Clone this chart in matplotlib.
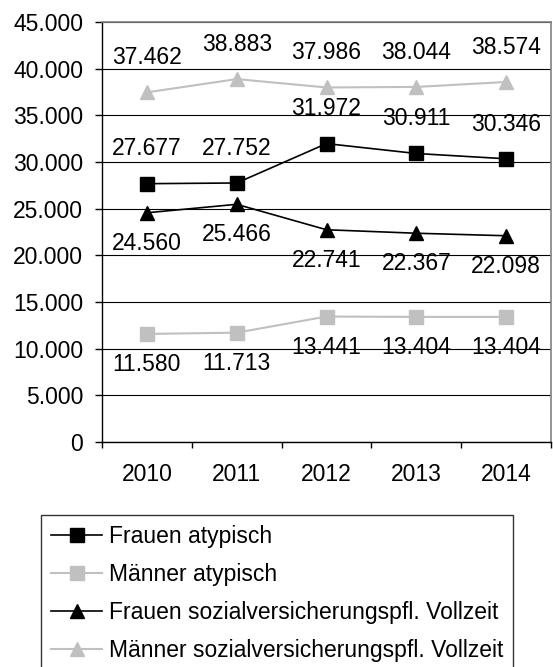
import matplotlib
matplotlib.use('Agg')
import matplotlib.pyplot as plt
import numpy as np

plt.rcParams['font.family'] = ['Liberation Sans', 'DejaVu Sans']

years = ["2010", "2011", "2012", "2013", "2014"]
frauen_atypisch = [27677, 27752, 31972, 30911, 30346]
maenner_atypisch = [11580, 11713, 13441, 13404, 13404]
frauen_vollzeit = [24560, 25466, 22741, 22367, 22098]
maenner_vollzeit = [37462, 38883, 37986, 38044, 38574]
series_names = ["Frauen atypisch", "Männer atypisch",
                "Frauen sozialversicherungspfl. Vollzeit",
                "Männer sozialversicherungspfl. Vollzeit"]
y_ticks = [0, 5000, 10000, 15000, 20000, 25000, 30000, 35000, 40000, 45000]


def de_fmt(v):
    return f"{v:,}".replace(",", ".")


FS = 16.5
fig = plt.figure(figsize=(5.53, 6.67), dpi=100)
ax = fig.add_axes([102/553, 1-442/667, 449/553, 420/667])

x = np.arange(len(years))
gray = "#c0c0c0"
styles = [
    (frauen_atypisch, "black", "s", 1.2, 25),
    (maenner_atypisch, gray, "s", 1.5, -22),
    (frauen_vollzeit, "black", "^", 1.2, -22),
    (maenner_vollzeit, gray, "^", 1.5, 25),
]
handles = []
for (vals, col, mk, lw, off), name in zip(styles, series_names):
    h, = ax.plot(x, vals, color=col, marker=mk, markersize=10 if mk == "s" else 9.5,
                 linewidth=lw, markeredgecolor=col, markerfacecolor=col, label=name,
                 clip_on=False, zorder=3)
    handles.append(h)
    for xi, v in zip(x, vals):
        ax.annotate(de_fmt(v), (xi, v), xytext=(0, off), textcoords="offset points",
                    ha="center", va="center", fontsize=FS, zorder=4)

ax.set_xlim(-0.5, 4.5)
ax.set_ylim(0, 45000)
ax.set_yticks(y_ticks)
ax.set_yticklabels([de_fmt(t) for t in y_ticks])
ax.set_xticks(x)
ax.set_xticklabels(years)
ax.set_xticks(np.arange(-0.5, 5, 1), minor=True)
ax.tick_params(axis="x", which="major", length=0, pad=15, labelsize=FS)
ax.tick_params(axis="x", which="minor", length=4.5, width=1, direction="out")
ax.tick_params(axis="y", length=5, width=1, pad=8.5, labelsize=FS)
ax.grid(axis="y", color="black", linewidth=0.8)
ax.set_axisbelow(True)
for side in ["top", "right"]:
    ax.spines[side].set_color("#808080")
    ax.spines[side].set_linewidth(1.2)
for side in ["left", "bottom"]:
    ax.spines[side].set_color("black")
    ax.spines[side].set_linewidth(1)

leg = fig.legend(handles=handles, loc="upper left", bbox_to_anchor=(41/553, 1-515/667),
                 fontsize=FS, frameon=True, fancybox=False, edgecolor="black",
                 handlelength=2.2, handletextpad=0.3, labelspacing=0.65,
                 borderpad=0.45, borderaxespad=0)
leg.get_frame().set_linewidth(1)

fig.savefig("out.png", dpi=100)
